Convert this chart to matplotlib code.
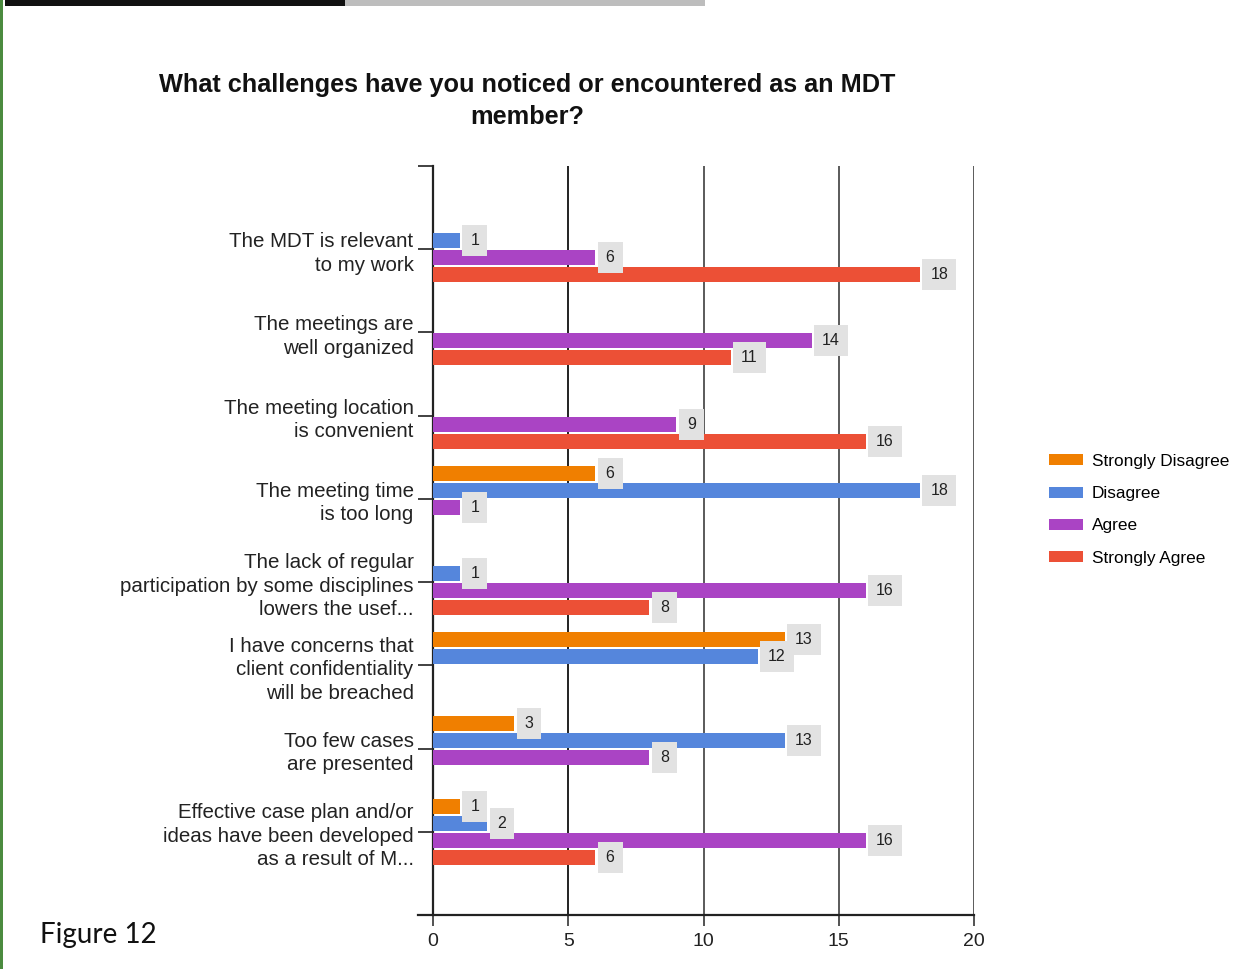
import matplotlib
matplotlib.use('Agg')
import matplotlib.pyplot as plt
from matplotlib.patches import Rectangle, Patch
from matplotlib.lines import Line2D
import numpy as np

# survey answers, one value per statement
categories = [
    'The MDT is relevant\nto my work',
    'The meetings are\nwell organized',
    'The meeting location\nis convenient',
    'The meeting time\nis too long',
    'The lack of regular\nparticipation by some disciplines\nlowers the usef...',
    'I have concerns that\nclient confidentiality\nwill be breached',
    'Too few cases\nare presented',
    'Effective case plan and/or\nideas have been developed\nas a result of M...',
]
strongly_disagree = [0, 0, 0, 6, 0, 13, 3, 1]
disagree = [1, 0, 0, 18, 1, 12, 13, 2]
agree = [6, 14, 9, 1, 16, 0, 8, 16]
strongly_agree = [18, 11, 16, 0, 8, 0, 0, 6]

series_names = ['Strongly Disagree', 'Disagree', 'Agree', 'Strongly Agree']
series_values = [strongly_disagree, disagree, agree, strongly_agree]
colors = ['#f07f00', '#5586dc', '#aa44c4', '#ec5036']
xticks = [0, 5, 10, 15, 20]

plt.rcParams['font.family'] = ['Liberation Sans', 'DejaVu Sans']

W, H = 1239, 969
fig = plt.figure(figsize=(W / 100, H / 100), dpi=100)
fig.patch.set_facecolor('white')

# chart area in pixel terms
x0, x1 = 433, 974
y_top, y_bot = 166, 915
ax = fig.add_axes([x0 / W, 1 - y_bot / H, (x1 - x0) / W, (y_bot - y_top) / H])

n = len(categories)
y = np.arange(n)
slot = 0.2043
bar_h = 0.18
offsets = (np.arange(4) - 1.5) * slot

for k, (name, vals, c) in enumerate(zip(series_names, series_values, colors)):
    ax.barh(y + offsets[k], vals, height=bar_h, color=c, label=name, zorder=3)
    for yi, v in zip(y, vals):
        if v == 0:
            continue
        ax.annotate(str(v), xy=(v, yi + offsets[k]), xytext=(7.5, 0),
                    textcoords='offset points', ha='left', va='center',
                    fontsize=11.5, color='#222222', zorder=5,
                    bbox=dict(boxstyle='square,pad=0.5', fc='#e2e2e2', ec='none'))

ax.set_xlim(0, 20)
ax.set_ylim(n, -1)

ax.set_xticks(xticks)
ax.set_xticklabels([str(t) for t in xticks], fontsize=14, color='#222222')
ax.tick_params(axis='x', length=8, width=1.3, color='#444444', pad=5)
for t in xticks[1:]:
    ax.axvline(t, color='#222222' if t == 5 else '#5a5a5a', lw=1.4, zorder=1)

ax.set_yticks(y)
ax.set_yticklabels(categories, fontsize=14.8, color='#222222', linespacing=1.3)
ax.set_yticks([-1], minor=True)
ax.tick_params(axis='y', which='both', length=11, width=1.3, color='#333333', pad=3)

for s in ['top', 'right']:
    ax.spines[s].set_visible(False)
ax.spines['left'].set_linewidth(1.6)
ax.spines['left'].set_color('#222222')
ax.spines['bottom'].set_visible(False)
# baseline runs a little past the vertical axis
ax.add_line(Line2D([-15 / (x1 - x0), 1.0], [0, 0], transform=ax.transAxes,
                   color='#222222', lw=1.6, clip_on=False, zorder=4))

fig.text(527 / W, 1 - 101 / H,
         'What challenges have you noticed or encountered as an MDT\nmember?',
         ha='center', va='center', fontsize=18.2, fontweight='bold',
         color='#111111', linespacing=1.45)

handles = [Patch(facecolor=c, label=nm) for nm, c in zip(series_names, colors)]
fig.legend(handles=handles, loc='upper left',
           bbox_to_anchor=(1042 / W, 1 - 447 / H), frameon=False,
           fontsize=12.4, handlelength=2.0, handleheight=0.6,
           handletextpad=0.5, labelspacing=1.0, borderaxespad=0)

fig.text(40 / W, 1 - 935 / H, 'Figure 12', ha='left', va='center',
         fontsize=20, family=['Lato', 'DejaVu Sans'], color='#111111')

# page decorations around the chart
fig.add_artist(Rectangle((5 / W, 1 - 6 / H), 340 / W, 6 / H,
                         transform=fig.transFigure, fc='#111111', ec='none'))
fig.add_artist(Rectangle((345 / W, 1 - 6 / H), 360 / W, 6 / H,
                         transform=fig.transFigure, fc='#bdbdbd', ec='none'))
fig.add_artist(Rectangle((0, 0), 3 / W, 1, transform=fig.transFigure,
                         fc='#4b8b3f', ec='none'))

fig.savefig('out.png', dpi=100)
